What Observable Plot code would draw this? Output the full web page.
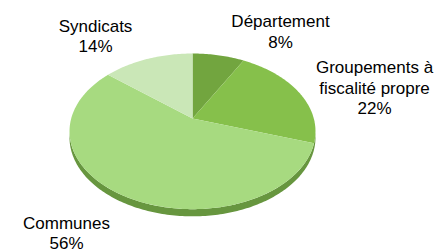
<!DOCTYPE html>
<html>
<head>
<meta charset="utf-8">
<script src="https://cdn.jsdelivr.net/npm/d3@7"></script>
<script src="https://cdn.jsdelivr.net/npm/@observablehq/plot@0.6"></script>
<style>
  html, body { margin: 0; padding: 0; background: #fff; }
  #chart { width: 448px; height: 251px; }
</style>
</head>
<body>
<div id="chart"></div>
<script>
// ---- data ----
const categories = ["Département", "Groupements à fiscalité propre", "Communes", "Syndicats"];
const values = [8, 22, 56, 14];
const labelText = ["Département", "Groupements à\nfiscalité propre", "Communes", "Syndicats"];
const sliceColors = ["#72a53f", "#86c04b", "#a7da80", "#cae7b7"];
const sideColor = "#67963f";

// ---- layout (pixel geometry of the tilted pie) ----
const W = 448, H = 251;
const cx = 192, cy = 118;   // apex of the pie
const A = 121.3, B = 75.7;  // horizontal / vertical radii
const k = 0.165;            // perspective strength
const depth = 6;            // thickness of the pie side
// label anchors (center x, top of first line)
const labelAnchor = [[280, 12.5], [374, 58.5], [66, 214], [95, 17]];

function project(theta, r = 1, drop = 0) {
  const u = Math.sin(theta) * r, v = -Math.cos(theta) * r;
  const w = 1 / (1 - k * v);
  return [cx + A * u * w, cy + B * v * w + drop * w];
}

const data = categories.map((c, i) => ({category: c, value: values[i], color: sliceColors[i], label: labelText[i] + "\n" + values[i] + "%"}));
const arcs = d3.pie().sort(null).value(d => d.value).startAngle(0).endAngle(2 * Math.PI)(data);

// slice polygons
const sliceRows = [];
arcs.forEach((a, i) => {
  const [ax, ay] = project(0, 0);
  sliceRows.push({slice: i, x: ax, y: ay, color: a.data.color});
  const n = Math.max(4, Math.ceil((a.endAngle - a.startAngle) / (Math.PI / 180)));
  for (let j = 0; j <= n; j++) {
    const t = a.startAngle + (a.endAngle - a.startAngle) * j / n;
    const [x, y] = project(t);
    sliceRows.push({slice: i, x, y, color: a.data.color});
  }
  sliceRows.push({slice: i, x: ax, y: ay, color: a.data.color});
});

// side band (front silhouette between the widest points)
const tR = Math.acos(-k), tL = 2 * Math.PI - Math.acos(-k);
const sideRows = [];
const ns = 160;
for (let j = 0; j <= ns; j++) {
  const t = tR + (tL - tR) * j / ns;
  const [x, y] = project(t);
  sideRows.push({x, y});
}
for (let j = ns; j >= 0; j--) {
  const t = tR + (tL - tR) * j / ns;
  const [x, y] = project(t, 1, depth);
  sideRows.push({x, y});
}

const labelRows = data.map((d, i) => ({x: labelAnchor[i][0], y: labelAnchor[i][1], text: d.label}));

const chart = Plot.plot({
  width: W, height: H,
  margin: 0,
  x: {domain: [0, W], range: [0, W], axis: null},
  y: {domain: [0, H], range: [0, H], axis: null},
  color: {type: "identity"},
  style: {fontFamily: "'Liberation Sans', Arial, sans-serif", background: "#fff"},
  marks: [
    Plot.line(sideRows, {x: "x", y: "y", fill: sideColor, stroke: "none"}),
    Plot.line(sliceRows, {x: "x", y: "y", z: "slice", fill: "color", stroke: "none"}),
    Plot.text(labelRows, {x: "x", y: "y", text: "text", fontSize: 17, lineHeight: 1.2, lineAnchor: "top", textAnchor: "middle", fill: "#000"})
  ]
});
document.getElementById("chart").appendChild(chart);
</script>
</body>
</html>
